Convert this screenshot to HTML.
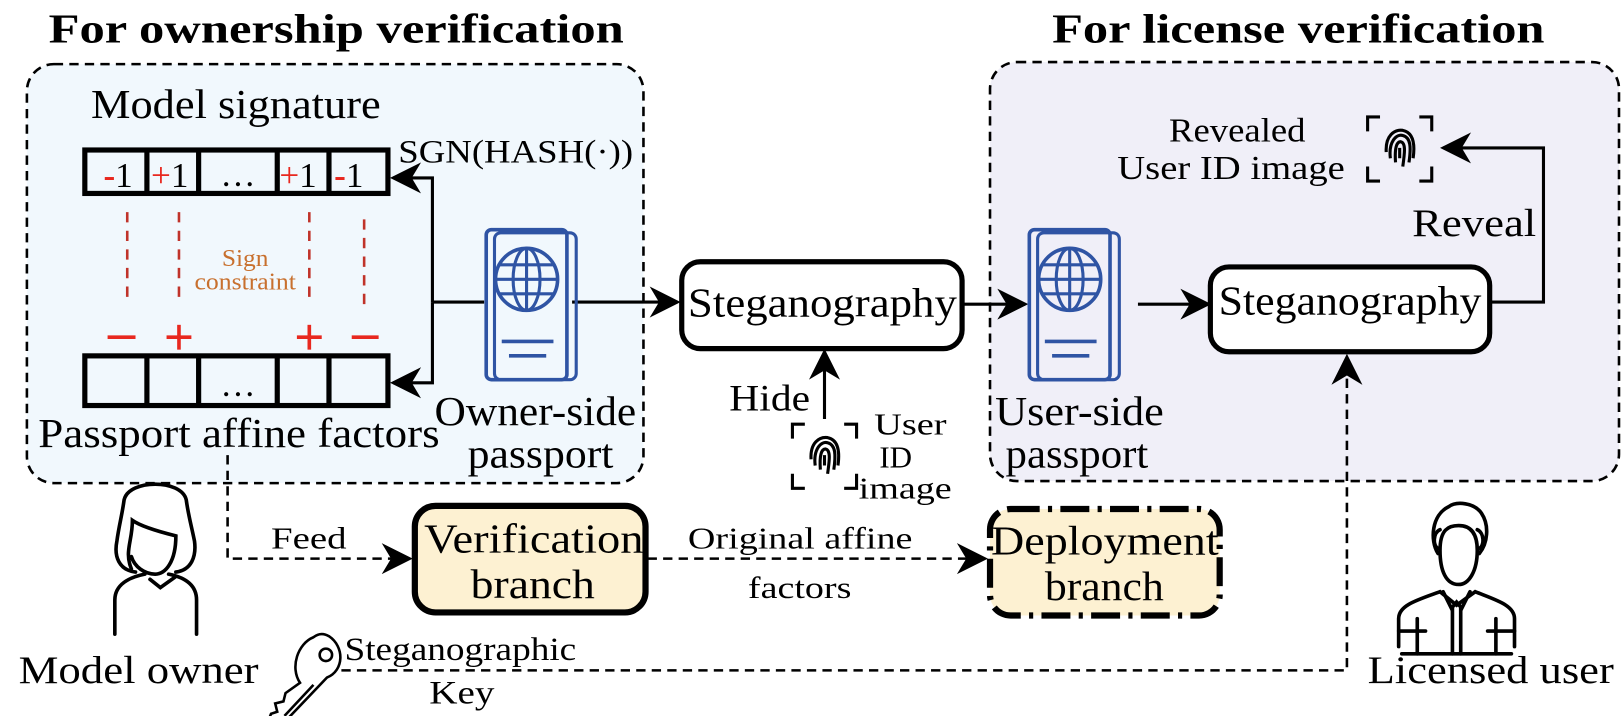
<!DOCTYPE html>
<html><head><meta charset="utf-8"><style>
html,body{margin:0;padding:0;background:#fff;}
svg{display:block;}
text{font-family:"Liberation Serif",serif;fill:#000;}
</style></head><body>
<svg width="1622" height="716" viewBox="0 0 1622 716" xmlns="http://www.w3.org/2000/svg">
<defs>
<marker id="ahb" viewBox="0 0 20 20" refX="18" refY="10" markerWidth="30" markerHeight="30" markerUnits="userSpaceOnUse" orient="auto">
<path d="M0,0 L20,10 L0,20 L6,10 Z" fill="#000"/></marker>
<g id="pp">
<rect x="8" y="3" width="79" height="142" rx="6" fill="none" stroke="#2f54a4" stroke-width="3"/>
<rect x="0" y="0" width="78" height="145" rx="5" fill="none" stroke="#2f54a4" stroke-width="3.5"/>
<circle cx="39" cy="48" r="30" fill="none" stroke="#2f54a4" stroke-width="3.5"/>
<ellipse cx="39" cy="48" rx="13" ry="30" fill="none" stroke="#2f54a4" stroke-width="3"/>
<line x1="39" y1="18" x2="39" y2="78" stroke="#2f54a4" stroke-width="3"/>
<line x1="9" y1="48" x2="69" y2="48" stroke="#2f54a4" stroke-width="3"/>
<line x1="13" y1="34" x2="65" y2="34" stroke="#2f54a4" stroke-width="3"/>
<line x1="13" y1="62" x2="65" y2="62" stroke="#2f54a4" stroke-width="3"/>
<line x1="15" y1="108" x2="65" y2="108" stroke="#2f54a4" stroke-width="3.5"/>
<line x1="22" y1="122" x2="58" y2="122" stroke="#2f54a4" stroke-width="3.5"/>
</g>
<g id="fp" fill="none" stroke="#000" stroke-width="3">
<path d="M0,14 V0 H12 M50,0 H62 V14 M62,48 V62 H50 M12,62 H0 V48"/>
<path d="M22,40 C20,24 28,16 34,18 C42,20 42,30 40,44 M27,44 C26,30 28,24 32,24 C37,25 36,34 34,48 M31,40 V30 M18,34 C17,18 26,12 34,13 C44,15 46,26 44,40"/>
</g>
</defs>
<g transform="scale(1.0345)">
<text x="325" y="41" font-size="40" font-weight="bold" text-anchor="middle" textLength="556" lengthAdjust="spacingAndGlyphs">For ownership verification</text>
<text x="1255" y="41" font-size="40" font-weight="bold" text-anchor="middle" textLength="476" lengthAdjust="spacingAndGlyphs">For license verification</text>

<rect x="26" y="62" width="596" height="405" rx="26" fill="#f1f8fd" stroke="#000" stroke-width="2.5" stroke-dasharray="9,6"/>
<rect x="957" y="60" width="608" height="405" rx="26" fill="#f0eff8" stroke="#000" stroke-width="2.5" stroke-dasharray="9,6"/>

<text x="88" y="114" font-size="40" textLength="280" lengthAdjust="spacingAndGlyphs">Model signature</text>
<g stroke="#000" stroke-width="5" fill="none">
<rect x="82" y="145" width="293" height="42"/>
<line x1="142" y1="145" x2="142" y2="187"/><line x1="192" y1="145" x2="192" y2="187"/>
<line x1="268" y1="145" x2="268" y2="187"/><line x1="318" y1="145" x2="318" y2="187"/>
<rect x="82" y="344" width="293" height="48"/>
<line x1="142" y1="344" x2="142" y2="392"/><line x1="192" y1="344" x2="192" y2="392"/>
<line x1="268" y1="344" x2="268" y2="392"/><line x1="318" y1="344" x2="318" y2="392"/>
</g>
<g font-size="34">
<text x="100" y="181"><tspan style="fill:#e8281f" font-weight="bold">-</tspan>1</text>
<text x="146" y="181"><tspan style="fill:#e8281f">+</tspan>1</text>
<text x="230" y="180" text-anchor="middle">…</text>
<text x="270" y="181"><tspan style="fill:#e8281f">+</tspan>1</text>
<text x="323" y="181"><tspan style="fill:#e8281f" font-weight="bold">-</tspan>1</text>
<text x="230" y="383" text-anchor="middle">…</text>
</g>
<g stroke="#c0332a" stroke-width="2.5" stroke-dasharray="10,8">
<line x1="123" y1="205" x2="123" y2="290"/><line x1="173" y1="205" x2="173" y2="290"/>
<line x1="299" y1="205" x2="299" y2="290"/><line x1="352" y1="212" x2="352" y2="295"/>
</g>
<text x="237" y="257" font-size="23" text-anchor="middle" style="fill:#c8702e" textLength="45" lengthAdjust="spacingAndGlyphs">Sign</text>
<text x="237" y="280" font-size="23" text-anchor="middle" style="fill:#c8702e" textLength="98" lengthAdjust="spacingAndGlyphs">constraint</text>
<g stroke="#e8281f" stroke-width="3.5">
<line x1="104" y1="326" x2="131" y2="326"/>
<line x1="161" y1="326" x2="185" y2="326"/><line x1="173" y1="314" x2="173" y2="338"/>
<line x1="287" y1="326" x2="311" y2="326"/><line x1="299" y1="314" x2="299" y2="338"/>
<line x1="340" y1="326" x2="366" y2="326"/>
</g>
<text x="37" y="432" font-size="40" textLength="388" lengthAdjust="spacingAndGlyphs">Passport affine factors</text>

<g stroke="#000" stroke-width="3" fill="none">
<polyline points="468,292 418,292"/>
<polyline points="418,292 418,172 380,172" marker-end="url(#ahb)"/>
<polyline points="418,292 418,370 380,370" marker-end="url(#ahb)"/>
<line x1="553" y1="292" x2="655" y2="292" marker-end="url(#ahb)"/>
</g>
<text x="385" y="157" font-size="32" textLength="227" lengthAdjust="spacingAndGlyphs">SGN(HASH(·))</text>
<use href="#pp" x="470" y="222"/>
<text x="420" y="411" font-size="40" textLength="195" lengthAdjust="spacingAndGlyphs">Owner-side</text>
<text x="452" y="452" font-size="40" textLength="141" lengthAdjust="spacingAndGlyphs">passport</text>

<rect x="659" y="253" width="271" height="84" rx="18" fill="#fff" stroke="#000" stroke-width="5"/>
<text x="665" y="306" font-size="40" textLength="260" lengthAdjust="spacingAndGlyphs">Steganography</text>
<line x1="930" y1="294" x2="991" y2="294" stroke="#000" stroke-width="3" marker-end="url(#ahb)"/>
<line x1="797" y1="405" x2="797" y2="340" stroke="#000" stroke-width="3" marker-end="url(#ahb)"/>
<text x="705" y="397" font-size="36" textLength="78" lengthAdjust="spacingAndGlyphs">Hide</text>
<use href="#fp" x="766" y="410"/>
<text x="845" y="420" font-size="30" textLength="70" lengthAdjust="spacingAndGlyphs">User</text>
<text x="850" y="452" font-size="30">ID</text>
<text x="830" y="482" font-size="30" textLength="90" lengthAdjust="spacingAndGlyphs">image</text>

<use href="#pp" x="995" y="222"/>
<text x="962" y="411" font-size="40" textLength="163" lengthAdjust="spacingAndGlyphs">User-side</text>
<text x="972" y="452" font-size="40" textLength="138" lengthAdjust="spacingAndGlyphs">passport</text>
<line x1="1100" y1="294" x2="1168" y2="294" stroke="#000" stroke-width="3" marker-end="url(#ahb)"/>
<rect x="1170" y="258" width="270" height="82" rx="18" fill="#fff" stroke="#000" stroke-width="5"/>
<text x="1178" y="304" font-size="40" textLength="254" lengthAdjust="spacingAndGlyphs">Steganography</text>
<polyline points="1440,292 1492,292 1492,143 1395,143" fill="none" stroke="#000" stroke-width="3" marker-end="url(#ahb)"/>
<text x="1365" y="228" font-size="38" textLength="120" lengthAdjust="spacingAndGlyphs">Reveal</text>
<use href="#fp" x="1322" y="113"/>
<text x="1130" y="137" font-size="33" textLength="132" lengthAdjust="spacingAndGlyphs">Revealed</text>
<text x="1080" y="173" font-size="33" textLength="220" lengthAdjust="spacingAndGlyphs">User ID image</text>

<g stroke="#000" stroke-width="2.5" fill="none" stroke-dasharray="9,6">
<polyline points="220,440 220,540 396,540" marker-end="url(#ahb)"/>
<line x1="626" y1="540" x2="952" y2="540" marker-end="url(#ahb)"/>
<polyline points="330,648 1302,648 1302,345" marker-end="url(#ahb)"/>
</g>
<text x="262" y="530" font-size="30" textLength="73" lengthAdjust="spacingAndGlyphs">Feed</text>
<text x="665" y="530" font-size="30" textLength="217" lengthAdjust="spacingAndGlyphs">Original affine</text>
<text x="723" y="578" font-size="30" textLength="100" lengthAdjust="spacingAndGlyphs">factors</text>

<rect x="401" y="489" width="223" height="103" rx="20" fill="#fdf1d2" stroke="#000" stroke-width="6"/>
<text x="410" y="534" font-size="40" textLength="212" lengthAdjust="spacingAndGlyphs">Verification</text>
<text x="455" y="578" font-size="40" textLength="120" lengthAdjust="spacingAndGlyphs">branch</text>
<rect x="957" y="492" width="222" height="103" rx="20" fill="#fdf1d2" stroke="#000" stroke-width="6" stroke-dasharray="28,8,4,8"/>
<text x="958" y="536" font-size="40" textLength="220" lengthAdjust="spacingAndGlyphs">Deployment</text>
<text x="1010" y="580" font-size="40" textLength="115" lengthAdjust="spacingAndGlyphs">branch</text>

<g fill="none" stroke="#000" stroke-width="3.5" stroke-linecap="round">
<path d="M111,613 V580 C111,565 125,558 140,555 M190,613 V580 C190,565 178,558 163,555"/>
<path d="M145,560 L155,568 L169,558"/>
<path d="M131,553 C115,551 110,538 113,523 C115,508 118,498 120,483 C125,463 175,463 180,483 C182,498 185,508 188,523 C190,538 185,551 170,553"/>
<path d="M127,550 C120,533 128,523 128,503 C135,508 150,513 170,518 C170,543 160,555 150,555 C140,555 130,548 127,538"/>
</g>
<text x="18" y="660" font-size="38" textLength="232" lengthAdjust="spacingAndGlyphs">Model owner</text>

<g fill="none" stroke="#000" stroke-width="2.5">
<path d="M318,615 C333,625 333,648 316,655 L275,698 L268,705 L258,700 L262,690 L268,688 L266,680 L274,678 L276,670 L290,660 C280,645 288,622 303,616 C308,612 313,612 318,615 Z"/>
<circle cx="315" cy="633" r="6"/>
<line x1="275" y1="692" x2="303" y2="662"/>
</g>
<text x="333" y="638" font-size="32" textLength="224" lengthAdjust="spacingAndGlyphs">Steganographic</text>
<text x="415" y="680" font-size="32" textLength="63" lengthAdjust="spacingAndGlyphs">Key</text>

<g fill="none" stroke="#000" stroke-width="3.5" stroke-linecap="round">
<path d="M1390,535 C1382,522 1384,498 1400,490 C1408,484 1425,486 1432,496 C1440,508 1438,525 1430,535"/>
<path d="M1390,530 C1385,528 1385,515 1392,512 M1430,530 C1435,528 1435,515 1428,512"/>
<path d="M1392,532 C1392,512 1400,508 1410,508 C1422,508 1428,516 1428,532 C1428,552 1420,565 1410,565 C1398,565 1392,552 1392,532"/>
<path d="M1352,625 V598 C1352,585 1370,580 1392,572 L1408,585 L1426,572 C1446,580 1464,585 1464,598 V625"/>
<path d="M1395,572 L1403,588 L1408,582 L1413,588 L1421,572"/>
<line x1="1404" y1="588" x2="1404" y2="632"/><line x1="1412" y1="588" x2="1412" y2="632"/>
<line x1="1352" y1="610" x2="1378" y2="610"/><line x1="1438" y1="610" x2="1464" y2="610"/>
<line x1="1370" y1="598" x2="1370" y2="632"/><line x1="1446" y1="598" x2="1446" y2="632"/>
<line x1="1355" y1="632" x2="1461" y2="632"/>
</g>
<text x="1322" y="660" font-size="38" textLength="238" lengthAdjust="spacingAndGlyphs">Licensed user</text>
</g>
</svg>
</body></html>
